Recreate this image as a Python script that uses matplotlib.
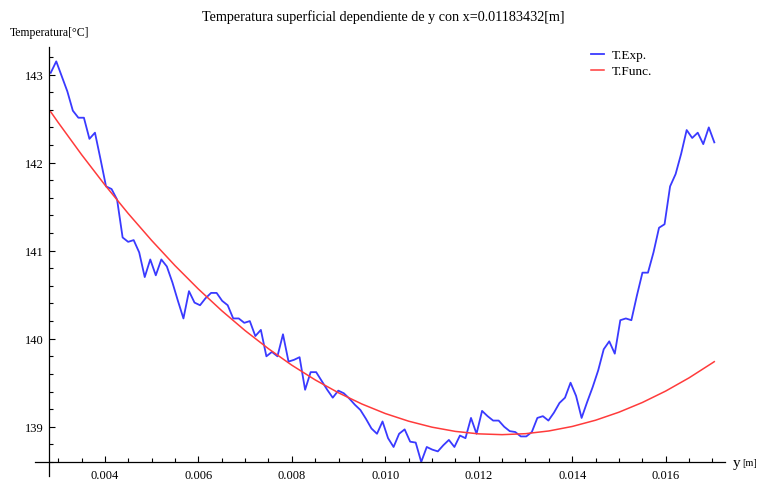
import numpy as np
import matplotlib
matplotlib.use("Agg")
import matplotlib.pyplot as plt
from matplotlib.ticker import MultipleLocator

plt.rcParams['font.family'] = ['Liberation Serif', 'DejaVu Serif']

# experimental points, y grid from 0.00284 to 0.01704 (121 points)
y_exp = np.linspace(0.0028402, 0.0170414, 121)
t_exp = [143.02, 143.15, 142.98, 142.81, 142.59, 142.51, 142.51, 142.27, 142.34, 142.04,
         141.73, 141.70, 141.58, 141.15, 141.10, 141.12, 140.98, 140.70, 140.90, 140.72,
         140.90, 140.82, 140.64, 140.43, 140.23, 140.54, 140.41, 140.38, 140.46, 140.52,
         140.52, 140.43, 140.38, 140.23, 140.23, 140.18, 140.20, 140.03, 140.10, 139.80,
         139.85, 139.80, 140.05, 139.74, 139.76, 139.79, 139.42, 139.62, 139.62, 139.52,
         139.42, 139.33, 139.41, 139.38, 139.32, 139.25, 139.19, 139.09, 138.98, 138.92,
         139.06, 138.87, 138.77, 138.92, 138.97, 138.83, 138.82, 138.60, 138.77, 138.74,
         138.72, 138.79, 138.85, 138.77, 138.90, 138.87, 139.10, 138.92, 139.18, 139.12,
         139.07, 139.07, 139.00, 138.95, 138.94, 138.89, 138.89, 138.94, 139.10, 139.12,
         139.07, 139.16, 139.27, 139.33, 139.50, 139.35, 139.10, 139.28, 139.45, 139.64,
         139.88, 139.97, 139.83, 140.21, 140.23, 140.21, 140.49, 140.75, 140.75, 140.98,
         141.26, 141.30, 141.73, 141.87, 142.10, 142.37, 142.28, 142.34, 142.21, 142.40,
         142.23]

# fitted function
y_func = [0.00284, 0.0030, 0.0035, 0.0040, 0.0045, 0.0050, 0.0055, 0.0060, 0.0065, 0.0070,
          0.0075, 0.0080, 0.0085, 0.0090, 0.0095, 0.0100, 0.0105, 0.0110, 0.0115, 0.0120,
          0.0125, 0.0130, 0.0135, 0.0140, 0.0145, 0.0150, 0.0155, 0.0160, 0.0165, 0.0170,
          0.01704]
t_func = [142.577, 142.456, 142.091, 141.746, 141.421, 141.116, 140.830, 140.564, 140.318, 140.092,
          139.886, 139.699, 139.532, 139.385, 139.258, 139.150, 139.063, 138.995, 138.947, 138.919,
          138.910, 138.921, 138.952, 139.003, 139.074, 139.165, 139.275, 139.405, 139.555, 139.725,
          139.739]

x_ticks = [0.004, 0.006, 0.008, 0.010, 0.012, 0.014, 0.016]
x_tick_labels = ['0.004', '0.006', '0.008', '0.010', '0.012', '0.014', '0.016']
t_ticks = [139, 140, 141, 142, 143]

fig = plt.figure(figsize=(7.61, 4.81), dpi=100)
ax = fig.add_axes([0.0648, 0.0368, 0.8879, 0.8628])

ax.plot(y_exp, t_exp, color='#3a3aff', lw=1.3, label='T.Exp.')
ax.plot(y_func, t_func, color='#ff3b3b', lw=1.1, label='T.Func.')

ax.set_xlim(0.00281, 0.01727)
ax.set_ylim(138.596, 143.31)

# mathematica style axes
for s in ax.spines.values():
    s.set_visible(False)
ax.plot([0, 0], [-0.032, 1], color='black', lw=0.9, transform=ax.transAxes, clip_on=False)
ax.plot([-0.021, 1], [0, 0], color='black', lw=0.9, transform=ax.transAxes, clip_on=False)

ax.set_xticks(x_ticks)
ax.set_xticklabels(x_tick_labels)
ax.set_yticks(t_ticks)
ax.xaxis.set_minor_locator(MultipleLocator(0.0005))
ax.yaxis.set_minor_locator(MultipleLocator(0.2))
ax.tick_params(which='both', direction='in', width=0.8, labelsize=9, color='black')
ax.tick_params(which='major', length=4.2)
ax.tick_params(which='minor', length=2.6)
ax.tick_params(axis='x', pad=5)
ax.tick_params(axis='y', pad=4)

fig.text(0.503, 0.965, 'Temperatura superficial dependiente de y con x=0.01183432[m]',
         ha='center', va='center', fontsize=10.2)
fig.text(0.013, 0.931, 'Temperatura[°C]', ha='left', va='center', fontsize=8.5)
fig.text(0.963, 0.037, 'y', ha='left', va='center', fontsize=11)
fig.text(0.976, 0.037, '[m]', ha='left', va='center', fontsize=7.5)

ax.legend(loc='upper left', bbox_to_anchor=(591 / 761, 1 - 50 / 481),
          bbox_transform=fig.transFigure, frameon=False, fontsize=9.5,
          handlelength=1.0, handletextpad=0.6, borderpad=0, borderaxespad=0,
          labelspacing=0.3)

fig.savefig('out.png', dpi=100)
